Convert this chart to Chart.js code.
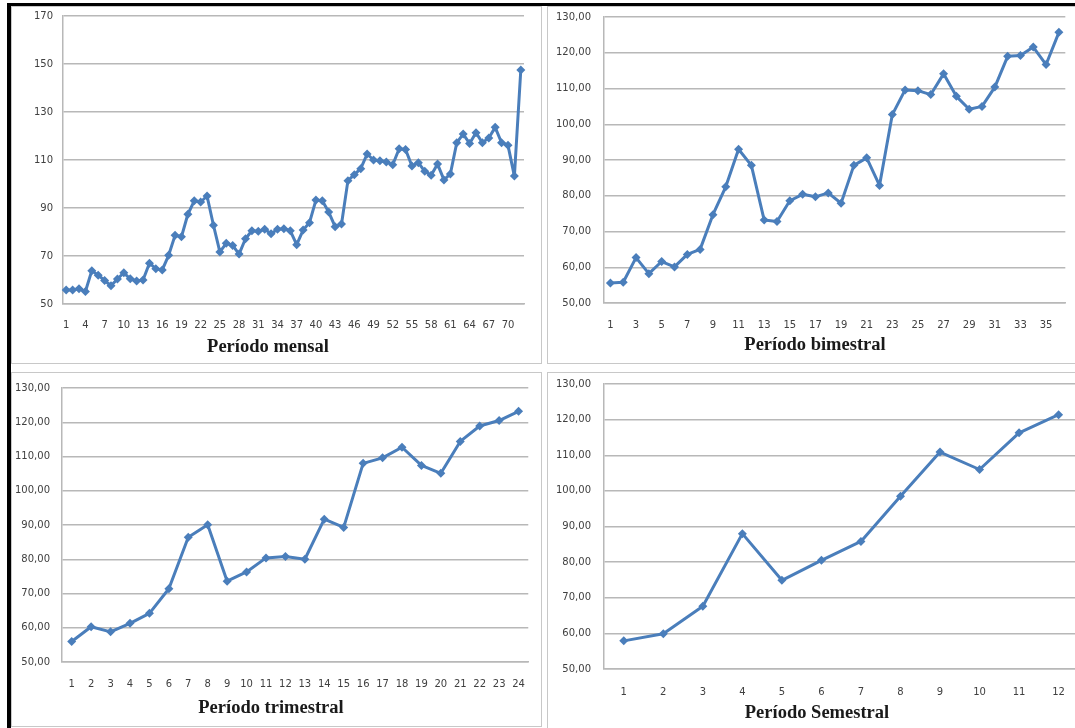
<!DOCTYPE html>
<html lang="pt">
<head>
<meta charset="utf-8">
<script src="https://cdn.jsdelivr.net/npm/chart.js@4.4.1/dist/chart.umd.min.js"></script>
<style>
  html, body { margin:0; padding:0; background:#fff; width:1075px; height:728px; overflow:hidden; }
  body { position:relative; }
  .panel { position:absolute; border:1px solid #c8c8c8; box-sizing:border-box; }
  canvas { position:absolute; }
  .titulo { position:absolute; transform:translate(-50%,-50%); font:bold 18.5px "Liberation Serif", "Times New Roman", serif; color:#1a1a1a; white-space:nowrap; }
  #barTop { position:absolute; left:7px; top:3px; width:1068px; height:3px; background:#000; }
  #barLeft { position:absolute; left:7px; top:3px; width:4px; height:725px; background:#000; }
</style>
</head>
<body>
<div id="barTop"></div>
<div id="barLeft"></div>

<div class="panel" style="left:11px;top:6px;width:531px;height:358px"></div>
<div class="panel" style="left:547px;top:6px;width:530px;height:358px"></div>
<div class="panel" style="left:11px;top:372px;width:531px;height:355px"></div>
<div class="panel" style="left:547px;top:372px;width:530px;height:358px"></div>

<canvas id="cMensal" width="529" height="356" style="left:12px;top:7px"></canvas>
<canvas id="cBimestral" width="527" height="356" style="left:548px;top:7px"></canvas>
<canvas id="cTrimestral" width="529" height="353" style="left:12px;top:373px"></canvas>
<canvas id="cSemestral" width="534" height="355" style="left:548px;top:373px"></canvas>

<div class="titulo" style="left:268px;top:346px">Período mensal</div>
<div class="titulo" style="left:815px;top:344px">Período bimestral</div>
<div class="titulo" style="left:271px;top:707px">Período trimestral</div>
<div class="titulo" style="left:817px;top:712px">Período Semestral</div>

<script>
// valores
const mensalLabels = [1,2,3,4,5,6,7,8,9,10,11,12,13,14,15,16,17,18,19,20,21,22,23,24,
  25,26,27,28,29,30,31,32,33,34,35,36,37,38,39,40,41,42,43,44,45,46,47,48,
  49,50,51,52,53,54,55,56,57,58,59,60,61,62,63,64,65,66,67,68,69,70,71,72];
const mensalValores = [55.8, 55.8, 56.4, 55.2, 63.9, 62.0, 59.8, 57.6, 60.4, 63.0, 60.5, 59.6,
  60.0, 67.0, 64.7, 64.2, 70.3, 78.6, 78.0, 87.4, 93.0, 92.5, 95.0, 82.8,
  71.7, 75.3, 74.4, 70.8, 77.2, 80.5, 80.3, 81.1, 79.3, 81.1, 81.4, 80.5,
  74.7, 80.8, 83.9, 93.3, 93.0, 88.3, 82.2, 83.3, 101.4, 103.9, 106.4, 112.5,
  110.0, 109.7, 109.2, 108.0, 114.7, 114.4, 107.5, 108.9, 105.3, 103.6, 108.3, 101.7,
  104.2, 117.2, 120.8, 116.9, 121.4, 117.2, 119.2, 123.6, 117.2, 116.1, 103.3, 147.5];

const bimestralLabels = [1,2,3,4,5,6,7,8,9,10,11,12,13,14,15,16,17,18,
  19,20,21,22,23,24,25,26,27,28,29,30,31,32,33,34,35,36];
const bimestralValores = [55.6, 55.8, 62.7, 58.2, 61.6, 60.1, 63.6, 65.0, 74.7, 82.5, 93.0, 88.5,
  73.2, 72.8, 78.6, 80.4, 79.7, 80.8, 77.9, 88.5, 90.6, 82.9, 102.7, 109.6,
  109.4, 108.3, 114.1, 107.8, 104.2, 105.0, 110.4, 119.0, 119.2, 121.6, 116.7, 125.7];

const trimestralLabels = [1,2,3,4,5,6,7,8,9,10,11,12,13,14,15,16,17,18,19,20,21,22,23,24];
const trimestralValores = [56.0, 60.3, 58.8, 61.3, 64.2, 71.4, 86.4, 90.1, 73.6, 76.3, 80.4, 80.8,
  80.0, 91.7, 89.3, 108.0, 109.6, 112.7, 107.4, 105.1, 114.4, 118.9, 120.5, 123.2];

const semestralLabels = [1,2,3,4,5,6,7,8,9,10,11,12];
const semestralValores = [57.9, 59.9, 67.6, 88.0, 74.9, 80.5, 85.8, 98.5, 110.9, 106.0, 116.3, 121.4];

const LINE = '#4a7ebb';
const GRID = '#b8b8b8';
const TICK = '#404040';
const FONT = { family: '"DejaVu Sans", sans-serif', size: 10 };

const virgula = v => v.toFixed(2).replace('.', ',');
const inteiro = v => String(v);

function buildChart(id, c) {
  return new Chart(document.getElementById(id), {
    type: 'line',
    data: {
      labels: c.labels,
      datasets: [{
        data: c.values,
        borderColor: LINE,
        backgroundColor: LINE,
        borderWidth: 3,
        borderJoinStyle: 'round',
        pointStyle: 'rectRot',
        pointRadius: 4.5,
        pointBorderWidth: 0,
        tension: 0
      }]
    },
    options: {
      responsive: false,
      animation: false,
      layout: { autoPadding: false, padding: { left: 0, top: c.pt, right: c.pr, bottom: 0 } },
      plugins: { legend: { display: false }, tooltip: { enabled: false } },
      scales: {
        x: {
          offset: true,
          grid: { display: false, drawTicks: false },
          border: { display: true, color: GRID, width: 1.5 },
          ticks: {
            autoSkip: false, maxRotation: 0, padding: c.xpad, color: TICK, font: FONT,
            callback: (v, i) => (i % c.every === 0 ? String(c.labels[i]) : '')
          },
          afterFit: s => { s.height = c.xh; }
        },
        y: {
          min: c.min, max: c.max,
          // the gap before the labels comes from an invisible tick mark, so it does not push the plot down
          grid: { color: GRID, lineWidth: 1.5, drawTicks: true, tickLength: c.ypad, tickColor: 'rgba(0,0,0,0)' },
          border: { display: true, color: GRID, width: 1.5 },
          ticks: { stepSize: c.step, padding: 0, color: TICK, font: FONT, callback: c.fmt },
          afterFit: s => { s.width = c.yw; }
        }
      }
    }
  });
}

buildChart('cMensal', { labels: mensalLabels, values: mensalValores, every: 3,
  min: 50, max: 170, step: 20, fmt: inteiro, pt: 9, pr: 17, yw: 51, xh: 59, xpad: 15, ypad: 10 });
buildChart('cBimestral', { labels: bimestralLabels, values: bimestralValores, every: 2,
  min: 50, max: 130, step: 10, fmt: virgula, pt: 10, pr: 7, yw: 56, xh: 60, xpad: 16, ypad: 13 });
buildChart('cTrimestral', { labels: trimestralLabels, values: trimestralValores, every: 1,
  min: 50, max: 130, step: 10, fmt: virgula, pt: 15, pr: 4, yw: 50, xh: 64, xpad: 16, ypad: 12 });
buildChart('cSemestral', { labels: semestralLabels, values: semestralValores, every: 1,
  min: 50, max: 130, step: 10, fmt: virgula, pt: 11, pr: 1, yw: 56, xh: 59, xpad: 17, ypad: 13 });
</script>
</body>
</html>
